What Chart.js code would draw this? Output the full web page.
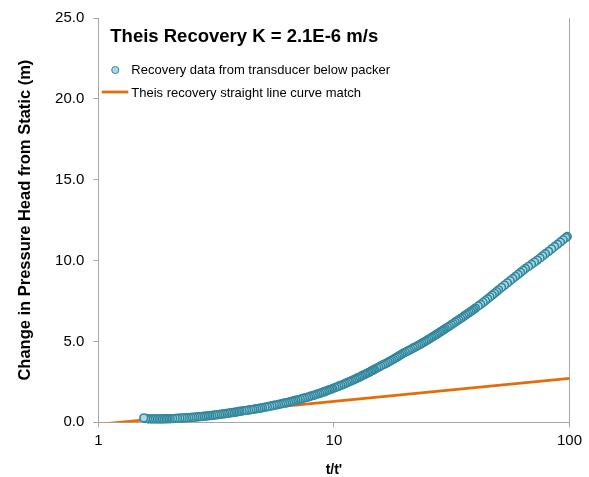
<!DOCTYPE html>
<html>
<head>
<meta charset="utf-8">
<script src="https://cdn.jsdelivr.net/npm/chart.js@4.4.1/dist/chart.umd.min.js"></script>
<style>
  html, body { margin: 0; padding: 0; background: #fff; }
  #wrap { width: 589px; height: 477px; }
</style>
</head>
<body>
<div id="wrap"><canvas id="c" width="589" height="477"></canvas></div>
<script>
// ---- data ----
const chartTitle = "Theis Recovery K = 2.1E-6 m/s";
const seriesNames = ["Recovery data from transducer below packer", "Theis recovery straight line curve match"];
const xAxisTitle = "t/t'";
const yAxisTitle = "Change in Pressure Head from Static (m)";
const xTickValues = [1, 10, 100];
const yTickValues = [0, 5, 10, 15, 20, 25];
const yTickLabels = ["0.0", "5.0", "10.0", "15.0", "20.0", "25.0"];

// recovery data (t/t', change in head m)
const recoveryX = [
  1.56,1.59,1.62,1.65,1.68,1.71,1.74,1.77,1.80,1.83,1.86,1.89,1.92,1.95,1.98,
  2.02,2.07,2.12,2.17,2.22,2.27,2.32,2.37,2.42,2.47,2.52,2.57,2.62,2.67,2.72,2.77,2.82,2.87,2.92,2.97,
  3.03,3.09,3.15,3.21,3.27,3.33,3.39,3.45,3.51,3.57,3.63,3.69,3.75,3.81,3.87,3.93,3.99,
  4.08,4.17,4.26,4.35,4.44,4.53,4.62,4.71,4.80,4.89,4.98,
  5.10,5.22,5.34,5.46,5.58,5.70,5.82,5.94,6.06,6.18,6.30,6.42,6.54,6.66,6.78,6.90,
  7.05,7.20,7.35,7.50,7.65,7.80,7.95,8.10,8.25,8.40,8.55,8.70,8.85,9.00,9.15,9.30,9.45,9.60,9.75,9.90,
  10.1,10.3,10.5,10.7,10.9,11.1,11.3,11.5,11.7,11.9,12.1,12.3,12.5,12.7,12.9,13.1,13.3,13.5,13.7,13.9,14.1,14.3,14.5,14.7,14.9,
  15.2,15.5,15.8,16.1,16.4,16.7,17.0,17.3,17.6,17.9,18.2,18.5,18.8,19.1,19.4,19.7,
  20.1,20.5,20.9,21.3,21.7,22.1,22.5,22.9,23.3,23.7,24.1,24.5,24.9,25.3,25.7,26.1,26.5,26.9,27.3,27.7,28.1,28.5,28.9,29.3,29.7,
  30.3,30.9,31.5,32.1,32.7,33.3,33.9,34.5,35.1,35.7,36.3,36.9,37.5,38.1,38.7,39.3,39.9,
  41,42,43,44,45,46,47,48,49,50,
  51.5,53.0,54.5,56.0,57.5,59.0,60.5,62.0,63.5,65.0,
  67,69,71,73,75,77,79,
  81.5,84,86.5,89,91.5,94,96.5,97.8
];
const recoveryY = [
  0.27,0.24,0.22,0.21,0.21,0.21,0.21,0.21,0.21,0.21,0.21,0.21,0.22,0.22,0.22,
  0.22,0.23,0.24,0.25,0.26,0.27,0.27,0.28,0.29,0.30,0.31,0.32,0.33,0.34,0.35,0.36,0.38,0.39,0.40,0.41,
  0.42,0.44,0.46,0.47,0.49,0.50,0.52,0.53,0.55,0.57,0.58,0.60,0.61,0.63,0.64,0.66,0.68,
  0.70,0.72,0.74,0.76,0.78,0.80,0.82,0.84,0.86,0.88,0.91,
  0.94,0.96,0.99,1.02,1.05,1.08,1.10,1.13,1.16,1.19,1.21,1.24,1.27,1.30,1.33,1.36,
  1.39,1.43,1.47,1.50,1.54,1.57,1.61,1.65,1.68,1.72,1.76,1.79,1.83,1.87,1.90,1.94,1.98,2.01,2.05,2.09,
  2.14,2.19,2.24,2.28,2.33,2.38,2.43,2.48,2.52,2.57,2.62,2.67,2.72,2.76,2.81,2.86,2.91,2.95,3.00,3.05,3.09,3.14,3.19,3.23,3.28,
  3.35,3.41,3.48,3.54,3.60,3.66,3.72,3.78,3.84,3.90,3.97,4.03,4.09,4.15,4.21,4.27,
  4.33,4.40,4.46,4.52,4.59,4.65,4.71,4.77,4.83,4.90,4.96,5.02,5.08,5.14,5.20,5.26,5.32,5.38,5.44,5.50,5.56,5.62,5.67,5.73,5.79,
  5.87,5.95,6.03,6.11,6.19,6.27,6.34,6.42,6.49,6.57,6.64,6.71,6.78,6.85,6.92,6.99,7.06,
  7.19,7.30,7.41,7.52,7.64,7.75,7.86,7.97,8.08,8.19,
  8.34,8.48,8.62,8.76,8.89,9.02,9.15,9.27,9.39,9.51,
  9.64,9.77,9.90,10.03,10.16,10.29,10.42,
  10.57,10.72,10.87,11.01,11.15,11.29,11.42,11.49
];

// straight line match (t/t', change in head m)
const matchX = [1, 100];
const matchY = [-0.13, 2.72];

// ---- styles ----
const FONT = '"Liberation Sans", Arial, Helvetica, sans-serif';
const AXIS_GRAY = '#A6A6A6';
const TEAL_EDGE = '#33879D';
const TEAL_FILL = '#A9D8E4';
const ORANGE = '#E46C0A';

// data recorded in time order (largest t/t' first)
const recoveryPoints = recoveryX.map((x, i) => ({ x: x, y: recoveryY[i] })).reverse();
const matchPoints = matchX.map((x, i) => ({ x: x, y: matchY[i] }));

const overlay = {
  id: 'overlay',
  afterDraw(chart) {
    const ctx = chart.ctx;
    const a = chart.chartArea;
    const ds = chart.data.datasets;
    ctx.save();
    ctx.fillStyle = '#000';
    ctx.textBaseline = 'alphabetic';
    ctx.textAlign = 'left';
    ctx.font = 'bold 18.5px ' + FONT;
    ctx.fillText(chartTitle, a.left + 12, a.top + 24);

    ctx.font = '13px ' + FONT;
    // marker entry
    ctx.beginPath();
    ctx.arc(a.left + 17, a.top + 52, 3.6, 0, Math.PI * 2);
    ctx.fillStyle = ds[0].pointBackgroundColor;
    ctx.fill();
    ctx.lineWidth = 1;
    ctx.strokeStyle = ds[0].pointBorderColor;
    ctx.stroke();
    ctx.fillStyle = '#000';
    ctx.fillText(ds[0].label, a.left + 33, a.top + 56.3);
    // line entry
    ctx.beginPath();
    ctx.moveTo(a.left + 3.5, a.top + 74);
    ctx.lineTo(a.left + 30, a.top + 74);
    ctx.lineWidth = ds[1].borderWidth;
    ctx.strokeStyle = ds[1].borderColor;
    ctx.stroke();
    ctx.fillText(ds[1].label, a.left + 33, a.top + 78.5);
    ctx.restore();
  }
};

new Chart(document.getElementById('c'), {
  type: 'scatter',
  data: {
    datasets: [
      {
        label: seriesNames[0],
        data: recoveryPoints,
        showLine: false,
        pointRadius: 3.9,
        pointHoverRadius: 3.9,
        pointBorderWidth: 1.6,
        pointBackgroundColor: TEAL_FILL,
        pointBorderColor: TEAL_EDGE,
        clip: false,
        order: 1
      },
      {
        label: seriesNames[1],
        data: matchPoints,
        showLine: true,
        pointRadius: 0,
        borderColor: ORANGE,
        borderWidth: 2.75,
        backgroundColor: ORANGE,
        order: 2
      }
    ]
  },
  options: {
    responsive: false,
    animation: false,
    devicePixelRatio: 1,
    events: [],
    layout: { padding: { top: 16.5, right: 19.5, left: 0, bottom: 0 } },
    plugins: {
      legend: { display: false },
      title: { display: false },
      tooltip: { enabled: false }
    },
    scales: {
      x: {
        type: 'logarithmic',
        min: 1,
        max: 100,
        afterBuildTicks: s => { s.ticks = xTickValues.map(v => ({ value: v })); },
        afterFit: s => { s.height = 54.7; },
        ticks: {
          callback: v => String(v),
          color: '#000',
          font: { family: FONT, size: 15 },
          padding: 5,
          maxRotation: 0,
          autoSkip: false
        },
        grid: {
          drawOnChartArea: true,
          color: c => (c.tick && c.tick.value === 100) ? AXIS_GRAY : 'rgba(0,0,0,0)',
          tickColor: AXIS_GRAY,
          tickLength: 5,
          lineWidth: 1
        },
        border: { display: true, color: AXIS_GRAY, width: 1 },
        title: {
          display: true,
          text: xAxisTitle,
          color: '#000',
          font: { family: FONT, size: 14, weight: 'bold', lineHeight: 1 },
          padding: { top: 0, bottom: 0 }
        }
      },
      y: {
        type: 'linear',
        min: 0,
        max: 25,
        afterBuildTicks: s => { s.ticks = yTickValues.map(v => ({ value: v })); },
        afterFit: s => { s.width = 98.3; },
        ticks: {
          callback: (v, i) => yTickLabels[yTickValues.indexOf(v)],
          color: '#000',
          font: { family: FONT, size: 15 },
          padding: 9
        },
        grid: {
          drawOnChartArea: false,
          tickColor: AXIS_GRAY,
          tickLength: 5
        },
        border: { display: true, color: AXIS_GRAY, width: 1 },
        title: {
          display: true,
          text: yAxisTitle,
          color: '#000',
          font: { family: FONT, size: 16.5, weight: 'bold', lineHeight: 1.2 },
          padding: { top: 16, bottom: 0 }
        }
      }
    }
  },
  plugins: [overlay]
});
</script>
</body>
</html>
